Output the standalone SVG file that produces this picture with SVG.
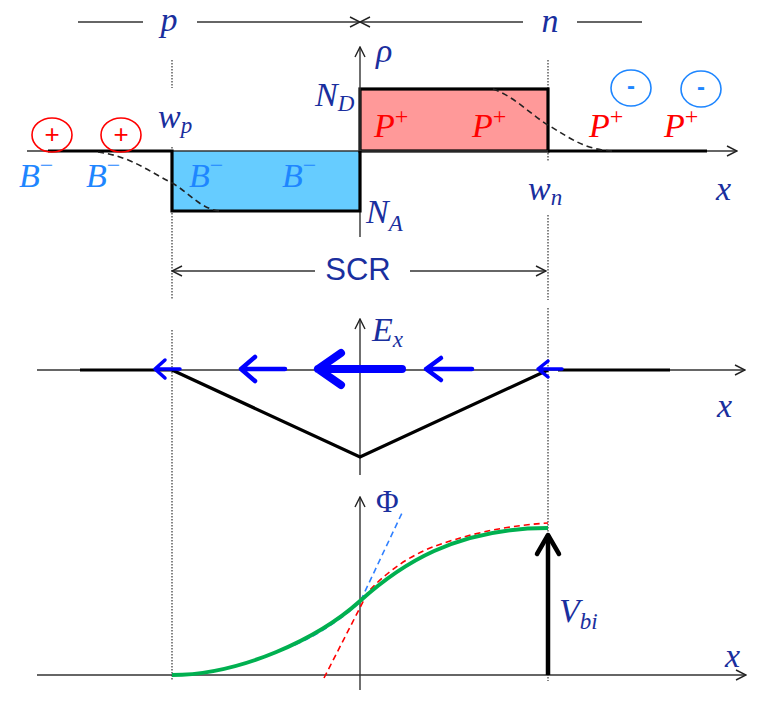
<svg xmlns="http://www.w3.org/2000/svg" width="773" height="708" viewBox="0 0 773 708">
<style>
.ax{stroke:#333;stroke-width:1.4;fill:none}
.thick{stroke:#000;stroke-width:3.2;fill:none}
.dot{stroke:#444;stroke-width:1.3;stroke-dasharray:1.5,1.5;fill:none}
.m{font-family:"Liberation Serif","DejaVu Serif",serif;font-style:italic;font-size:34px;fill:#1A2F9E}
.b{font-family:"Liberation Serif","DejaVu Serif",serif;font-style:italic;font-size:34px;fill:#1E86FF}
.r{font-family:"Liberation Serif","DejaVu Serif",serif;font-style:italic;font-size:34px;fill:#FF0000}
.sub{font-size:23px}
.sup{font-size:24px;font-style:normal}
.barrow{stroke:#0000FF;fill:none;stroke-linecap:round;stroke-linejoin:round}
.dash{fill:none;stroke-width:1.6;stroke-dasharray:6,4}
</style>
<defs>
<marker id="ah" viewBox="0 0 12 12" refX="11" refY="6" markerWidth="12" markerHeight="12" markerUnits="userSpaceOnUse" orient="auto-start-reverse">
<path d="M1,1 L11,6 L1,11" fill="none" stroke="#222" stroke-width="1.4"/>
</marker>
</defs>

<g id="guides">
<line class="dot" x1="172" y1="60" x2="172" y2="88"/>
<line class="dot" x1="172" y1="147" x2="172" y2="300"/>
<line class="dot" x1="172" y1="330" x2="172" y2="681"/>
<line class="dot" x1="548" y1="60" x2="548" y2="162"/>
<line class="dot" x1="548" y1="215" x2="548" y2="300"/>
<line class="dot" x1="548" y1="308" x2="548" y2="681"/>
</g>

<g id="header">
<line class="ax" x1="78" y1="22" x2="143" y2="22"/>
<line class="ax" x1="197" y1="22" x2="360" y2="22" marker-end="url(#ah)"/>
<line class="ax" x1="523" y1="22" x2="360" y2="22" marker-end="url(#ah)"/>
<line class="ax" x1="577" y1="22" x2="642" y2="22"/>
<text class="m" x="169" y="31" text-anchor="middle">p</text>
<text class="m" x="550" y="32" text-anchor="middle">n</text>
</g>

<g id="charge-plot">
<rect x="172" y="151" width="188" height="60" fill="#66CCFF"/>
<rect x="360" y="89" width="188" height="62" fill="#FF9999" stroke="#000" stroke-width="3.2"/>
<line class="ax" x1="27" y1="151" x2="737" y2="151" marker-end="url(#ah)"/>
<line class="ax" x1="360" y1="237" x2="360" y2="47" marker-end="url(#ah)"/>
<path class="thick" d="M48,151 H172 V211 H360 V151"/>
<line class="thick" x1="548" y1="151" x2="707" y2="151"/>
<path class="dash" stroke="#222" d="M98,152 C130,156 150,172 172,183 C190,193 200,209 220,211"/>
<path class="dash" stroke="#222" d="M493,89 C515,97 530,114 548,125 C570,138 585,150 613,151"/>
<text class="m" x="376" y="62">ρ</text>
<text class="m" x="315" y="106">N<tspan class="sub" dy="5">D</tspan></text>
<text class="m" x="366" y="223">N<tspan class="sub" dy="8">A</tspan></text>
<text class="m" x="158" y="128">w<tspan class="sub" dy="5">p</tspan></text>
<text class="m" x="528" y="200">w<tspan class="sub" dy="5">n</tspan></text>
<text class="m" x="716" y="200">x</text>
</g>

<g id="carriers">
<ellipse cx="52" cy="135" rx="20" ry="17" fill="none" stroke="#FF0000" stroke-width="1.6"/>
<ellipse cx="121" cy="135" rx="20" ry="17" fill="none" stroke="#FF0000" stroke-width="1.6"/>
<text x="52" y="143" text-anchor="middle" font-family="Liberation Sans,Arial,sans-serif" font-size="26" fill="#FF0000">+</text>
<text x="121" y="143" text-anchor="middle" font-family="Liberation Sans,Arial,sans-serif" font-size="26" fill="#FF0000">+</text>
<ellipse cx="631" cy="88" rx="20" ry="18" fill="none" stroke="#1E86FF" stroke-width="1.6"/>
<ellipse cx="701" cy="89" rx="20" ry="18" fill="none" stroke="#1E86FF" stroke-width="1.6"/>
<text x="631" y="94" text-anchor="middle" font-family="Liberation Sans,Arial,sans-serif" font-weight="bold" font-size="24" fill="#1E86FF">-</text>
<text x="701" y="95" text-anchor="middle" font-family="Liberation Sans,Arial,sans-serif" font-weight="bold" font-size="24" fill="#1E86FF">-</text>
<text class="b" x="19" y="187">B<tspan class="sup" dy="-14">−</tspan></text>
<text class="b" x="86" y="187">B<tspan class="sup" dy="-14">−</tspan></text>
<text class="b" x="189" y="187">B<tspan class="sup" dy="-14">−</tspan></text>
<text class="b" x="282" y="187">B<tspan class="sup" dy="-14">−</tspan></text>
<text class="r" x="374" y="137">P<tspan class="sup" dy="-13">+</tspan></text>
<text class="r" x="472" y="137">P<tspan class="sup" dy="-13">+</tspan></text>
<text class="r" x="589" y="137">P<tspan class="sup" dy="-13">+</tspan></text>
<text class="r" x="664" y="137">P<tspan class="sup" dy="-13">+</tspan></text>
</g>

<g id="scr">
<line class="ax" x1="315" y1="271" x2="172" y2="271" marker-end="url(#ah)"/>
<line class="ax" x1="410" y1="271" x2="546" y2="271" marker-end="url(#ah)"/>
<text x="358" y="280" text-anchor="middle" font-family="Liberation Sans,Arial,sans-serif" font-size="31" fill="#1A2F9E">SCR</text>
</g>

<g id="field-plot">
<line class="ax" x1="37" y1="370" x2="745" y2="370" marker-end="url(#ah)"/>
<line class="ax" x1="360" y1="475" x2="360" y2="319" marker-end="url(#ah)"/>
<line class="thick" x1="80" y1="370" x2="172" y2="370"/>
<line class="thick" x1="558" y1="370" x2="670" y2="370"/>
<polyline class="thick" points="172,370 360,457 548,370"/>
<g id="field-arrows">
<path class="barrow" stroke-width="3.5" d="M180,369 H155 M165,360 L155,369 L165,378"/>
<path class="barrow" stroke-width="4.5" d="M285,369 H241 M255,357 L241,369 L255,381"/>
<path class="barrow" stroke-width="8" d="M402,369 H318 M341,353 L318,369 L341,385"/>
<path class="barrow" stroke-width="4.5" d="M472,369 H426 M441,358 L426,369 L441,380"/>
<path class="barrow" stroke-width="3.5" d="M562,369 H538 M548,361 L538,369 L548,377"/>
</g>
<text class="m" x="372" y="341">E<tspan class="sub" dy="6">x</tspan></text>
<text class="m" x="717" y="417">x</text>
</g>

<g id="potential-plot">
<line class="ax" x1="37" y1="675" x2="746" y2="675" marker-end="url(#ah)"/>
<line class="ax" x1="360" y1="690" x2="360" y2="497" marker-end="url(#ah)"/>
<path class="dash" stroke="#FF0000" d="M324,678 L368,592 C384,575 402,560 430,548 C462,536 500,526 548,523"/>
<path class="dash" stroke="#3080FF" d="M295,645 C321,633 343,618 360,602 L402,513"/>
<path d="M172,675 C240,675 318,639 360,601 C400,565 455,528 548,528" fill="none" stroke="#00B050" stroke-width="4"/>
<line x1="548" y1="675" x2="548" y2="535" stroke="#000" stroke-width="4.5"/>
<path d="M537,554 L548,535 L559,554" fill="none" stroke="#000" stroke-width="4.5" stroke-linecap="round" stroke-linejoin="round"/>
<text x="376" y="512" font-family="Liberation Serif,DejaVu Serif,serif" font-size="31" fill="#1A2F9E">Φ</text>
<text class="m" x="559" y="622">V<tspan class="sub" dy="7">bi</tspan></text>
<text class="m" x="725" y="667">x</text>
</g>
</svg>
